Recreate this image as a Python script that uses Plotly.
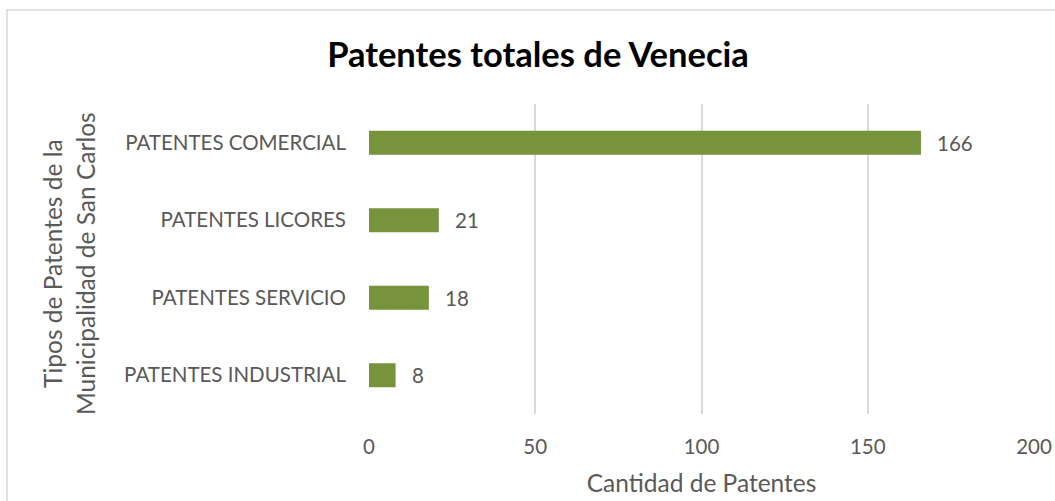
import plotly.graph_objects as go

# Patent counts by type (listed bottom to top)
categories = ["PATENTES INDUSTRIAL", "PATENTES SERVICIO", "PATENTES LICORES", "PATENTES COMERCIAL"]
counts = [8, 18, 21, 166]
x_ticks = [0, 50, 100, 150, 200]

FONT = "Lato"
GRAY = "#595959"
GREEN = "#77933C"

W, H = 1055, 501
L, R, T, B = 369, 21, 104, 87
PW, PH = W - L - R, H - T - B


def px_x(px):
    return (px - L) / PW


def px_y(py):
    return (H - B - py) / PH


fig = go.Figure()
fig.add_trace(go.Bar(
    x=counts,
    y=categories,
    orientation="h",
    marker=dict(color=GREEN, line=dict(width=0)),
    hoverinfo="x+y",
))

# Value labels to the right of each bar
for c, v in zip(categories, counts):
    fig.add_annotation(
        x=v, y=c, xref="x", yref="y", text=str(v), showarrow=False,
        xanchor="left", xshift=14, font=dict(family=FONT, size=20.5, color=GRAY),
    )

# Two-line rotated y-axis title
for text, xpos in [("Tipos de Patentes de la", 52), ("Municipalidad de San Carlos", 85)]:
    fig.add_annotation(
        x=px_x(xpos), y=px_y(264), xref="paper", yref="paper", text=text,
        xanchor="center", yanchor="middle",
        showarrow=False, textangle=-90, font=dict(family=FONT, size=24.5, color=GRAY),
    )

fig.update_layout(
    width=W, height=H,
    margin=dict(l=L, r=R, t=T, b=B, autoexpand=False),
    paper_bgcolor="white", plot_bgcolor="white",
    showlegend=False,
    bargap=0.69,
    title=dict(
        text="<b>Patentes totales de Venecia</b>",
        x=538 / W, xanchor="center", y=1 - 55 / H, yanchor="middle",
        font=dict(family=FONT, size=34.5, color="black"),
    ),
    xaxis=dict(
        range=[0, 200], tickvals=x_ticks, showgrid=True, gridcolor="#D9D9D9", gridwidth=1.5,
        zeroline=False, showline=False, ticks="", automargin=False,
        tickfont=dict(family=FONT, size=20.5, color=GRAY),
        ticklabelstandoff=18,
        title=dict(text="Cantidad de Patentes", font=dict(family=FONT, size=24.5, color=GRAY), standoff=18),
    ),
    yaxis=dict(
        showgrid=False, zeroline=False, showline=False, ticks="", automargin=False,
        tickfont=dict(family=FONT, size=20.5, color=GRAY),
        ticklabelstandoff=22,
    ),
    shapes=[dict(
        type="rect", xref="paper", yref="paper",
        x0=px_x(7), x1=px_x(1060), y0=px_y(506), y1=px_y(10),
        line=dict(color="#D9D9D9", width=1.5), layer="below",
    )],
)

fig.write_html("out.html")
